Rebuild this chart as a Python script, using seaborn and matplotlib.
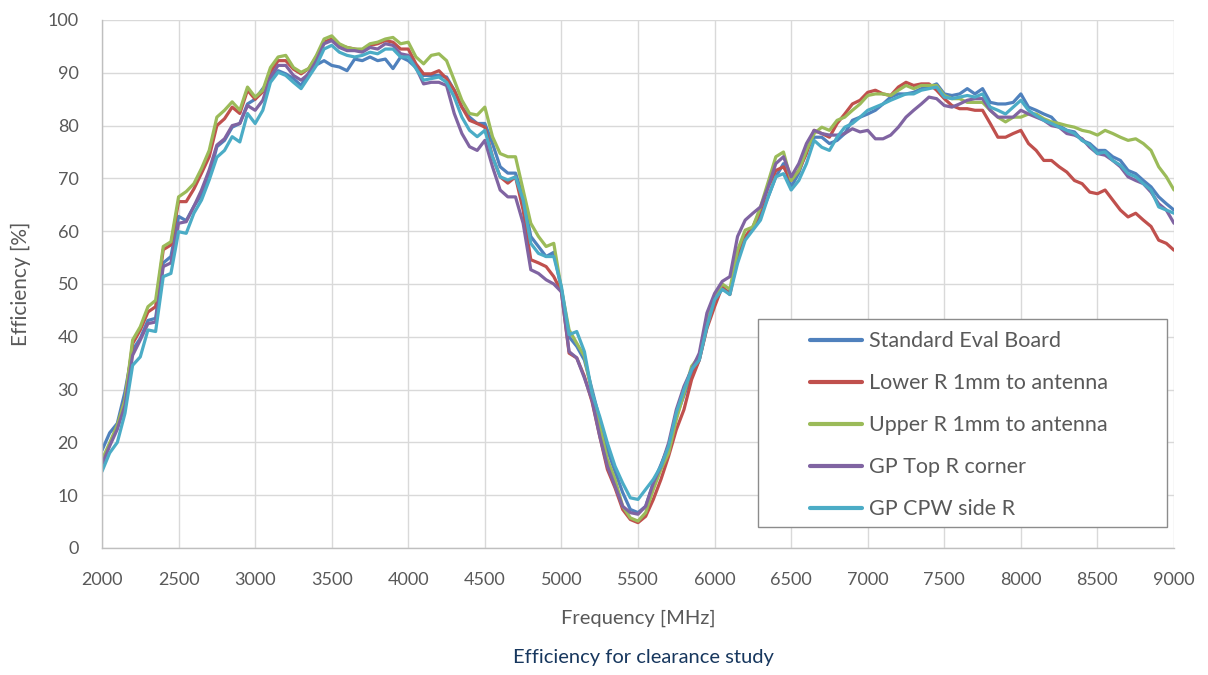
import numpy as np
import pandas as pd
import matplotlib
matplotlib.use("Agg")
import matplotlib.pyplot as plt
from matplotlib.patches import Rectangle
import seaborn as sns

freq = list(range(2000, 9001, 50))

standard_eval = [18.5, 21.8, 23.6, 29.6, 37.5, 39.7, 43.1, 43.5, 54, 55.2, 62.8, 62, 64.7, 66.9, 70.3, 76, 77.2, 79.7, 80.4, 84.1,
                 85, 87, 88.6, 90.4, 89.8, 88.9, 87.6, 90, 91.5, 92.3, 91.4, 91.1, 90.4, 92.6, 92.3, 93, 92.3, 92.6, 90.8, 93, 92.3,
                 91, 89.5, 89.5, 89.5, 89.2, 86.7, 83.5, 81.6, 80.4, 80.4, 76.6, 72.2, 71, 71, 66.5, 59, 57.1, 55.2, 56, 49,
                 40, 38.2, 35.6, 30, 24.3, 18.6, 14.5, 10.5, 7.3, 6.7, 7.9, 12.3, 15.8, 19.3, 24.9, 28.9, 32.7, 35.6, 41.9, 47.3,
                 49, 48.5, 55, 58.8, 60.8, 63, 66.5, 70.3, 72.8, 68.4, 71, 75.3, 77.8, 77.8, 76.6, 77.2, 78.5, 81, 81.6, 82.2,
                 82.9, 84.1, 85.4, 86, 86, 86.3, 87, 87.3, 87.9, 86, 85.7, 86, 87, 86, 87, 84.4, 84.1, 84.1, 84.4, 86,
                 83.5, 82.9, 82.2, 81.6, 80, 79.1, 78.8, 77.2, 76.6, 75.3, 75.3, 74.1, 73.4, 71.5, 70.9, 69.6, 68.4, 66.5, 65.2, 64]

lower_r = [16, 19.6, 23, 28, 38.7, 41.3, 44.7, 45.7, 56.5, 57.4, 65.6, 65.6, 68, 71, 74.1, 80, 81.3, 83.5, 82.3, 86.7,
           85, 86.4, 90.1, 92.3, 92.3, 90.7, 89.8, 90.8, 93, 95.8, 96.4, 95.2, 94.8, 94.5, 94.2, 95.2, 95.5, 96.1, 95.8, 94.5, 94.5,
           91.7, 89.8, 89.8, 90.4, 88.9, 86.7, 83.5, 81, 80.4, 79.7, 74.1, 70.3, 69.1, 70.3, 64, 54.6, 54, 53.3, 51.4, 48.5,
           36.9, 36, 32.5, 27.7, 21.2, 14.9, 11.4, 7.3, 5.4, 4.8, 6, 9.2, 13, 17.4, 22.4, 26.2, 31.9, 35.6, 41.6, 45.7,
           49.5, 48, 55, 59, 60.8, 64, 68.4, 71.5, 72.2, 69.6, 71.5, 74.7, 79.1, 78.5, 77.8, 80.4, 82.2, 84.1, 84.8, 86.3,
           86.7, 86, 85.7, 87.3, 88.2, 87.6, 87.9, 87.9, 86.7, 85.1, 83.8, 83.2, 83.2, 82.9, 82.9, 80.4, 77.8, 77.8, 78.5, 79.1,
           76.6, 75.3, 73.4, 73.4, 72.2, 71.2, 69.6, 69, 67.4, 67.1, 67.8, 65.9, 64, 62.7, 63.4, 62.1, 60.9, 58.3, 57.7, 56.4]

upper_r = [16.7, 19.9, 23.3, 28, 39.4, 41.9, 45.7, 46.9, 57.1, 58, 66.5, 67.5, 69, 71.9, 75.3, 81.6, 82.9, 84.5, 82.9, 87.3,
           85.4, 86.7, 91, 93, 93.3, 91, 90.1, 90.8, 93.3, 96.4, 97, 95.5, 94.8, 94.5, 94.5, 95.5, 95.8, 96.4, 96.7, 95.5, 95.8,
           93, 91.7, 93.3, 93.6, 92.3, 88.6, 84.8, 82.3, 82, 83.5, 77.9, 74.7, 74.1, 74.1, 67.8, 61.5, 59, 57.1, 57.7, 49,
           41.3, 38.8, 36.3, 29.3, 23, 16.8, 13, 7.9, 5.7, 5.1, 6.7, 11.1, 14.9, 18, 24.3, 29.3, 34.4, 36.3, 42.6, 47.6,
           50, 49, 56.4, 60.2, 60.8, 64.6, 69.3, 74.1, 75, 69.6, 71.5, 75.3, 78.5, 79.7, 79.1, 81, 81.6, 82.9, 84.1, 85.7,
           86, 86, 85.7, 86.7, 87.6, 87, 87.6, 87.6, 87.6, 85.7, 85.1, 85.1, 84.4, 84.4, 84.4, 82.9, 81.6, 80.7, 81.6, 81.6,
           82.2, 82.2, 81.3, 80.7, 80.4, 80, 79.7, 79.1, 78.8, 78.2, 79.1, 78.5, 77.8, 77.2, 77.5, 76.6, 75.3, 72.2, 70.3, 67.8]

gp_top_r = [15.8, 19.3, 22.5, 27, 36.5, 39.4, 42.5, 42.8, 53.3, 54, 61.5, 61.8, 64.7, 67.8, 71.6, 76.3, 77.5, 80, 80.4, 83.8,
            82.9, 84.8, 89.2, 91.4, 91.4, 89.5, 88.6, 89.8, 92.3, 95.5, 96.1, 94.8, 94.2, 94.2, 93.9, 94.8, 94.5, 95.5, 95.2, 93.6, 93.3,
            91, 87.9, 88.2, 88.2, 87.6, 82.3, 78.5, 76, 75.3, 77.2, 72.2, 67.8, 66.5, 66.5, 61.5, 52.7, 52, 50.8, 50, 48.5,
            37.2, 36, 32.2, 28, 21.2, 15.5, 11.7, 7.9, 6.7, 6.4, 7.9, 12.3, 15.5, 19.9, 26.2, 30.6, 33.8, 36.9, 44.5, 48.2,
            50.5, 51.4, 59, 62.1, 63.4, 64.6, 68.4, 72.8, 74.1, 70.3, 72.8, 76.6, 79.1, 78.5, 78.2, 78.2, 78.5, 79.4, 78.8, 79.1,
            77.5, 77.5, 78.2, 79.7, 81.6, 82.9, 84.1, 85.4, 85.1, 83.8, 83.5, 84.1, 84.8, 85.1, 85.1, 82.9, 81.6, 81.6, 81.6, 82.9,
            82.2, 81.6, 81, 80, 79.7, 78.5, 78.2, 77.5, 75.9, 74.7, 74.4, 73.4, 72.2, 70.3, 69.6, 69, 67.4, 65.2, 64, 61.5]

gp_cpw_r = [14.5, 18, 20, 25.5, 34.6, 36.2, 41.3, 41, 51.4, 52, 59.9, 59.6, 63.4, 65.9, 69.7, 74, 75.3, 77.9, 76.9, 82.3,
            80.4, 82.9, 88.2, 90.1, 89.5, 88.2, 87, 89.2, 91.4, 94.5, 95.2, 93.9, 93.3, 93, 93.3, 93.9, 93.6, 94.5, 94.5, 93, 93,
            90.8, 88.6, 88.9, 89.2, 88.2, 85.4, 81.6, 79.1, 77.9, 79.1, 74.1, 70.3, 69.7, 70.3, 65.9, 57.7, 55.8, 55.2, 55.2, 49.5,
            40.4, 41, 37.2, 29.3, 24.9, 19.9, 15.5, 12.3, 9.5, 9.2, 11.1, 13, 15.5, 19.3, 25.6, 30, 33.8, 35.6, 41.9, 47,
            49, 48, 53.9, 58.3, 60.2, 62.1, 66.5, 70.3, 70.9, 67.8, 69.6, 72.8, 77.2, 75.9, 75.3, 77.8, 79.7, 80.4, 81.6, 82.9,
            83.5, 84.1, 84.8, 85.4, 86, 86, 86.7, 87, 87.3, 85.4, 85.1, 85.4, 85.7, 85.4, 86, 83.5, 82.9, 82.2, 83.5, 84.8,
            82.9, 81.9, 81, 80.4, 79.7, 79.1, 78.5, 77.2, 76.3, 74.7, 75, 73.4, 72.5, 70.9, 70.3, 69, 67.8, 64.6, 64, 63.4]

series_names = ["Standard Eval Board", "Lower R 1mm to antenna", "Upper R 1mm to antenna",
                "GP Top R corner", "GP CPW side R"]
series_values = [standard_eval, lower_r, upper_r, gp_top_r, gp_cpw_r]
colors = ["#4F81BD", "#C0504D", "#9BBB59", "#8064A2", "#4BACC6"]

x_ticks = list(range(2000, 9001, 500))
y_ticks = list(range(0, 101, 10))

frames = []
for name, vals in zip(series_names, series_values):
    frames.append(pd.DataFrame({"Frequency": freq, "Efficiency": vals, "Series": name}))
df = pd.concat(frames, ignore_index=True)

sns.set_style("whitegrid")
plt.rcParams['font.family'] = ['Lato', 'DejaVu Sans']

fig = plt.figure(figsize=(12.08, 6.75), dpi=100)
ax = fig.add_axes([102/1208, 1 - 548/675, (1174-102)/1208, (548-20)/675])

sns.lineplot(data=df, x="Frequency", y="Efficiency", hue="Series", hue_order=series_names,
             palette=colors, linewidth=2.3, ax=ax, legend=True)

ax.set_xlim(2000, 9000)
ax.set_ylim(0, 100)
ax.set_xticks(x_ticks)
ax.set_yticks(y_ticks)
ax.grid(True, color="#D9D9D9", linewidth=1.0)
for s in ["top", "right"]:
    ax.spines[s].set_visible(False)
for s in ["left", "bottom"]:
    ax.spines[s].set_color("#BFBFBF")
    ax.spines[s].set_linewidth(1.0)
ax.tick_params(axis="both", colors="#595959", labelsize=13, length=0)
ax.tick_params(axis="x", pad=17)
ax.tick_params(axis="y", pad=17)
ax.set_xlabel("Frequency [MHz]", fontsize=14.5, color="#595959", labelpad=16)
ax.set_ylabel("Efficiency [%]", fontsize=15, color="#595959", labelpad=12)

# legend frame
frame = Rectangle((0.612, 0.040), 0.3815, 0.394, transform=ax.transAxes, facecolor="white",
                  edgecolor="#8C8C8C", linewidth=1.0, zorder=4)
ax.add_patch(frame)

leg = ax.legend(loc="upper left", bbox_to_anchor=(0.660, 0.4105),
                fontsize=15.5, frameon=False,
                labelspacing=1.02, handlelength=2.42, handletextpad=0.33, borderpad=0, borderaxespad=0)
leg.set_zorder(5)
for t in leg.get_texts():
    t.set_color("#595959")
for h in leg.get_lines():
    h.set_linewidth(3)

fig.text(0.5 + (643.5 - 604) / 1208, 1 - 658/675, "Efficiency for clearance study", ha="center", va="center",
         fontsize=14.5, color="#17375E")

fig.savefig("out.png", dpi=100)
